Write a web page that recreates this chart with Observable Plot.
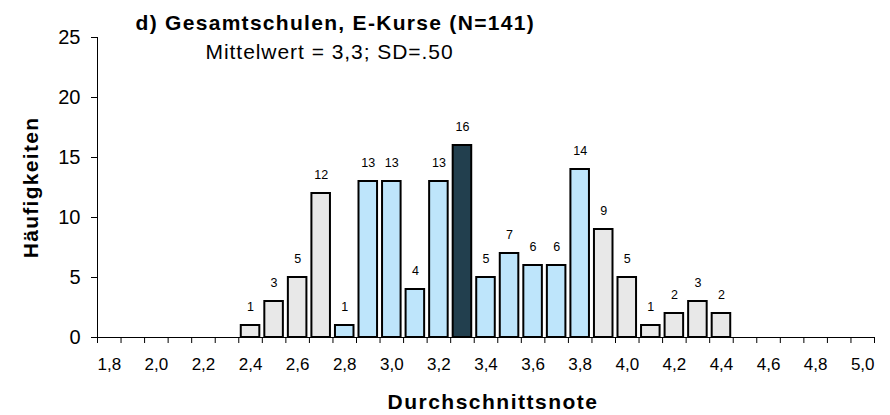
<!DOCTYPE html>
<html>
<head>
<meta charset="utf-8">
<script src="https://cdn.jsdelivr.net/npm/d3@7"></script>
<script src="https://cdn.jsdelivr.net/npm/@observablehq/plot@0.6"></script>
<style>
  html, body { margin: 0; padding: 0; background: #fff; }
  #chart { width: 890px; height: 415px; }
</style>
</head>
<body>
<div id="chart"></div>
<script>
// ---- Data ----
const title = "d) Gesamtschulen, E-Kurse (N=141)";
const subtitle = "Mittelwert = 3,3; SD=.50";
const xLabel = "Durchschnittsnote";
const yLabel = "Häufigkeiten";

const categories = ["2,4","2,5","2,6","2,7","2,8","2,9","3,0","3,1","3,2","3,3","3,4","3,5","3,6","3,7","3,8","3,9","4,0","4,1","4,2","4,3","4,4"];
const counts     = [1, 3, 5, 12, 1, 13, 13, 4, 13, 16, 5, 7, 6, 6, 14, 9, 5, 1, 2, 3, 2];
const groups     = ["grau","grau","grau","grau","blau","blau","blau","blau","blau","dunkel","blau","blau","blau","blau","blau","grau","grau","grau","grau","grau","grau"];

const xCategories = ["1,8","1,9","2,0","2,1","2,2","2,3","2,4","2,5","2,6","2,7","2,8","2,9","3,0","3,1","3,2","3,3","3,4","3,5","3,6","3,7","3,8","3,9","4,0","4,1","4,2","4,3","4,4","4,5","4,6","4,7","4,8","4,9","5,0"];
const xTickLabels = ["1,8","2,0","2,2","2,4","2,6","2,8","3,0","3,2","3,4","3,6","3,8","4,0","4,2","4,4","4,6","4,8","5,0"];
const yTicks = [0, 5, 10, 15, 20, 25];

const groupDomain = ["grau", "blau", "dunkel"];
const groupColors = ["#E8E8E8", "#BEE5FB", "#223F4E"];

// ---- Derived ----
const num = s => +s.replace(",", ".");
const half = 0.05;
const round2 = v => Math.round(v * 100) / 100;
const data = categories.map((c, i) => ({c, v: num(c), n: counts[i], g: groups[i]}));
const edges = [round2(num(xCategories[0]) - half), ...xCategories.map(c => round2(num(c) + half))];
const xDomain = [edges[0], edges[edges.length - 1]];
const tickValues = xTickLabels.map(num);
const fmtX = d => xTickLabels[tickValues.findIndex(t => Math.abs(t - d) < 1e-9)];

const font = "'Liberation Sans', Arial, Helvetica, sans-serif";

const chart = Plot.plot({
  width: 890,
  height: 415,
  marginLeft: 97,
  marginRight: 16,
  marginTop: 37,
  marginBottom: 78,
  style: {fontFamily: font, fontSize: "16px", color: "#000", background: "#fff", overflow: "visible"},
  x: {type: "linear", domain: xDomain},
  y: {domain: [0, 25]},
  color: {type: "ordinal", domain: groupDomain, range: groupColors},
  marks: [
    Plot.rectY(data, {
      x1: d => d.v - half, x2: d => d.v + half, y1: d => 0, y2: "n",
      fill: "g", stroke: "#000", strokeWidth: 2, insetLeft: 2.5, insetRight: 2.5
    }),
    Plot.ruleY([0], {stroke: "#000", strokeWidth: 1}),
    Plot.ruleX([xDomain[0]], {y1: d => 0, y2: d => 25, stroke: "#000", strokeWidth: 1}),
    Plot.axisY({ticks: yTicks, tickSize: 6, tickPadding: 11, fontSize: 20, label: null, stroke: "#000"}),
    Plot.axisX({ticks: edges, tickSize: 6, tickFormat: () => "", label: null, stroke: "#000"}),
    Plot.axisX({ticks: tickValues, tickSize: 0, tickPadding: 20.7, tickFormat: fmtX, fontSize: 17, label: null}),
    Plot.text(data, {x: "v", y: "n", text: d => String(d.n), dy: -19, fontSize: 12.5, fill: "#000"}),
    Plot.text([title], {text: d => d, frameAnchor: "top-left", textAnchor: "start", lineAnchor: "top",
      dx: 38, dy: -22, fontSize: 21, fontWeight: "bold", fill: "#000"}),
    Plot.text([subtitle], {text: d => d, frameAnchor: "top-left", textAnchor: "start", lineAnchor: "top",
      dx: 108, dy: 7, fontSize: 21, fill: "#000"}),
    Plot.text([xLabel], {text: d => d, frameAnchor: "bottom-left", textAnchor: "start", lineAnchor: "top",
      dx: 290, dy: 56.3, fontSize: 21, fontWeight: "bold", fill: "#000"}),
    Plot.text([yLabel], {text: d => d, frameAnchor: "left", textAnchor: "middle", rotate: -90,
      dx: -66.4, fontSize: 21, fontWeight: "bold", fill: "#000"})
  ]
});

// slight letter spacing for the large labels (approximating the original rendering)
d3.select(chart).selectAll("text").each(function() {
  const t = this.textContent;
  if (t === title) this.setAttribute("letter-spacing", "1.3");
  else if (t === subtitle) this.setAttribute("letter-spacing", "0.95");
  else if (t === xLabel) this.setAttribute("letter-spacing", "1.5");
  else if (t === yLabel) this.setAttribute("letter-spacing", "1.3");
});

document.getElementById("chart").appendChild(chart);
</script>
</body>
</html>
